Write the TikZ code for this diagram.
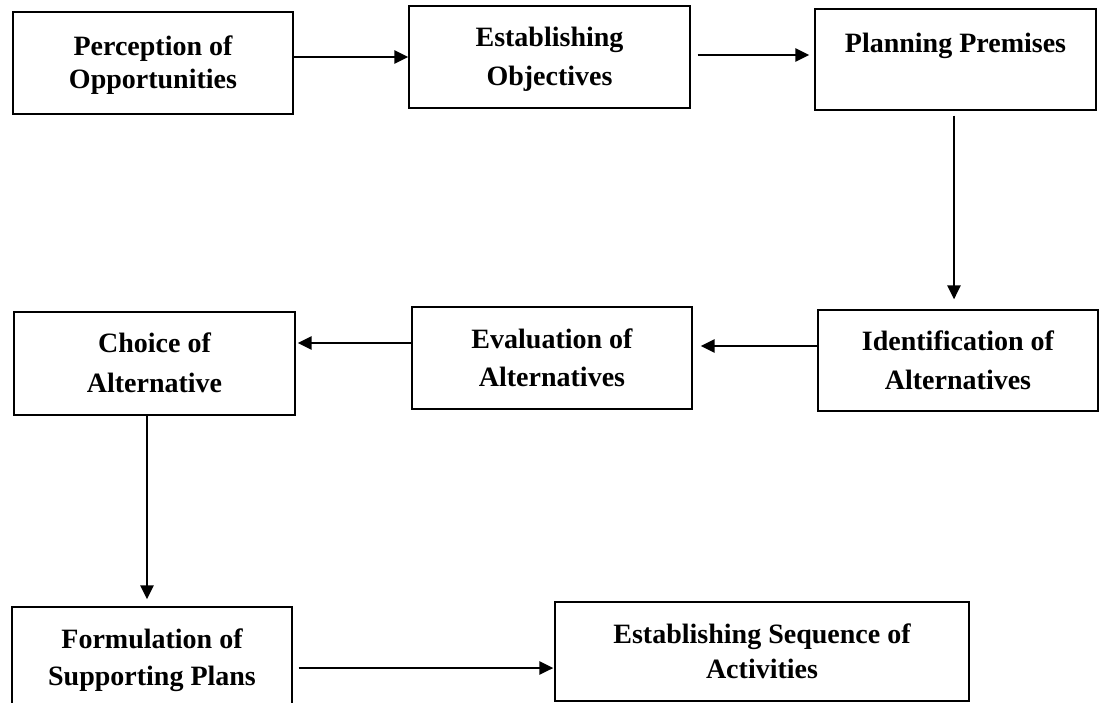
\documentclass[tikz,border=0pt]{standalone}
\usepackage{fontspec}
\setmainfont{Liberation Serif}
\usetikzlibrary{arrows.meta,calc}
\newcommand\mystrut{\rule[-7pt]{0pt}{32.5pt}}
\tikzset{
  box/.style={draw=black, line width=1.2pt, inner sep=0pt, align=center,
    font=\bfseries\fontsize{28}{39}\selectfont},
  arr/.style={line width=2.6pt, -{Triangle[length=14pt,width=13pt]}}
}
\begin{document}
\begin{tikzpicture}[x=1pt,y=-1pt]
\useasboundingbox (0,0) rectangle (1102,702);
\clip (0,0) rectangle (1102,702);
\node[box, minimum width=280pt, minimum height=102pt, font=\bfseries\fontsize{28}{33}\selectfont] (b1) at (153,63) {\mystrut Perception of\\\mystrut Opportunities};
\node[box, minimum width=281pt, minimum height=102pt] (b2) at (549.5,57) {\mystrut Establishing\\\mystrut Objectives};
\node[box, minimum width=281pt, minimum height=101pt, font=\bfseries\fontsize{28}{31}\selectfont] (b3) at (955.5,59.5) {\mystrut Planning Premises\\\mystrut};
\node[box, minimum width=280pt, minimum height=101pt] (b4) at (958,360.5) {\mystrut Identification of\\\mystrut Alternatives};
\node[box, minimum width=280pt, minimum height=102pt, font=\bfseries\fontsize{28}{38}\selectfont] (b5) at (552,358) {\mystrut Evaluation of\\\mystrut Alternatives};
\node[box, minimum width=281pt, minimum height=103pt, font=\bfseries\fontsize{28}{40}\selectfont] (b6) at (154.5,363.5) {\mystrut Choice of\\\mystrut Alternative};
\node[box, minimum width=280pt, minimum height=102pt, font=\bfseries\fontsize{28}{37}\selectfont] (b7) at (152,658) {\mystrut Formulation of\\\mystrut Supporting Plans};
\node[box, minimum width=414pt, minimum height=99pt, font=\bfseries\fontsize{28}{35}\selectfont] (b8) at (762,651.5) {\mystrut Establishing Sequence of\\\mystrut Activities};
\draw[arr] ($(b1.east)+(0,-6)$) -- (b2.west);
\draw[arr] ($(b2.east)+(7,-2)$) -- ($(b3.west)+(-5,-4.5)$);
\draw[arr] ($(b3.south)+(-1.5,5)$) -- ($(b4.north)+(-4,-10)$);
\draw[arr] ($(b4.west)+(0,-14.5)$) -- ($(b5.east)+(8,-12)$);
\draw[arr] ($(b5.west)+(0,-15)$) -- ($(b6.east)+(2,-20.5)$);
\draw[arr] ($(b6.south)+(-7.5,0)$) -- ($(b7.north)+(-5,-7)$);
\draw[arr] ($(b7.east)+(6,10)$) -- ($(b8.west)+(-1,16.5)$);
\end{tikzpicture}
\end{document}
